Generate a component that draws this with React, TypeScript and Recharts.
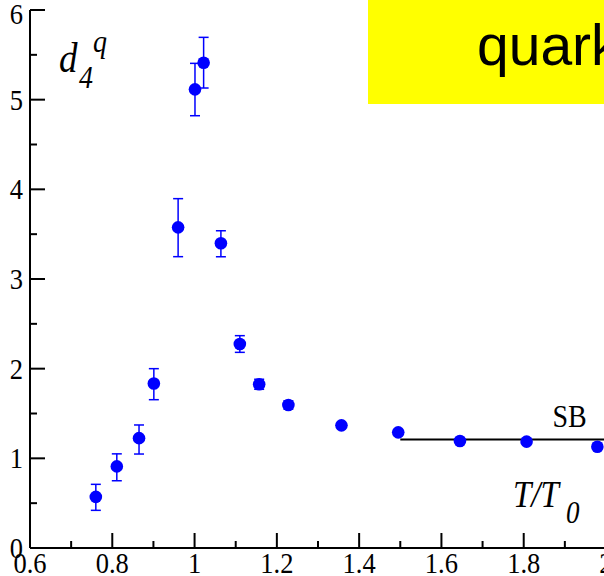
import React from 'react';
import { ScatterChart, Scatter, XAxis, YAxis, ErrorBar, ReferenceLine } from 'recharts';

const temperature = [0.760, 0.811, 0.865, 0.901, 0.960, 1.001, 1.022, 1.064, 1.110, 1.157, 1.228, 1.357, 1.495, 1.645, 1.807, 1.979];
const d4q = [0.57, 0.91, 1.225, 1.834, 3.576, 5.115, 5.412, 3.398, 2.275, 1.826, 1.595, 1.368, 1.29, 1.193, 1.186, 1.13];
const errLow = [0.15, 0.16, 0.177, 0.18, 0.327, 0.294, 0.282, 0.15, 0.093, 0.056, 0.045, 0.02, 0.015, 0.015, 0.015, 0.015];
const errHigh = [0.14, 0.14, 0.147, 0.166, 0.32, 0.29, 0.283, 0.14, 0.093, 0.056, 0.045, 0.02, 0.015, 0.015, 0.015, 0.015];
const sbLimit = 1.21;
const sbStart = 1.5;

const xTicks = [0.6, 0.7, 0.8, 0.9, 1.0, 1.1, 1.2, 1.3, 1.4, 1.5, 1.6, 1.7, 1.8, 1.9, 2.0];
const yTicks = [0, 0.5, 1, 1.5, 2, 2.5, 3, 3.5, 4, 4.5, 5, 5.5, 6];

const data = temperature.map((t, i) => ({ t, v: d4q[i], err: [errLow[i], errHigh[i]] }));

const SERIF = '"Liberation Serif", "Times New Roman", serif';
const SANS = '"Liberation Sans", Arial, sans-serif';
const STRETCH = 1.15;

const isMajorX = (v: number) => Math.round(v * 10) % 2 === 0;
const isMajorY = (v: number) => Math.abs(v - Math.round(v)) < 1e-6;
const fmt = (v: number) => String(Math.round(v * 10) / 10);

const BottomTick = (props: any) => {
  const { x, y, payload } = props;
  const v = payload.value;
  const major = isMajorX(v);
  return (
    <g>
      <line x1={x} y1={y} x2={x} y2={y - (major ? 15 : 7)} stroke="#000" strokeWidth={2} />
      {major && (
        <g transform={`translate(${x},${y}) scale(1,${STRETCH})`}>
          <text x={0} y={21.7} textAnchor="middle" fontFamily={SERIF} fontSize={26.5} fill="#000">{fmt(v)}</text>
        </g>
      )}
    </g>
  );
};

const TopTick = (props: any) => {
  const { x, y, payload } = props;
  const major = isMajorX(payload.value);
  return <line x1={x} y1={y} x2={x} y2={y + (major ? 15 : 7)} stroke="#000" strokeWidth={2} />;
};

const LeftTick = (props: any) => {
  const { x, y, payload } = props;
  const v = payload.value;
  const major = isMajorY(v);
  const extra = v === 6 ? 4 : 0;
  return (
    <g>
      <line x1={x} y1={y} x2={x + (major ? 15 : 7)} y2={y} stroke="#000" strokeWidth={2} />
      {major && (
        <g transform={`translate(${x - 7},${y + extra}) scale(1,${STRETCH})`}>
          <text x={0} y={8.7} textAnchor="end" fontFamily={SERIF} fontSize={26.5} fill="#000">{fmt(v)}</text>
        </g>
      )}
    </g>
  );
};

const RightTick = (props: any) => {
  const { x, y, payload } = props;
  const major = isMajorY(payload.value);
  return <line x1={x} y1={y} x2={x - (major ? 15 : 7)} y2={y} stroke="#000" strokeWidth={2} />;
};

const Dot = (props: any) => <circle cx={props.cx} cy={props.cy} r={6.3} fill="#0000ff" />;

export default function App() {
  return (
    <div style={{ position: 'fixed', left: 0, top: 0, width: 604, height: 576, overflow: 'hidden', background: '#fff' }}>
      <ScatterChart width={612} height={576} margin={{ top: 10, right: 6, bottom: 0, left: 0 }}>
        <XAxis
          type="number" dataKey="t" domain={[0.6, 2.0]} ticks={xTicks} interval={0}
          height={28} tickSize={0} tickMargin={0} tickLine={false}
          axisLine={{ stroke: '#000', strokeWidth: 2 }} tick={<BottomTick />} allowDataOverflow
        />
        <XAxis
          xAxisId="top" orientation="top" type="number" domain={[0.6, 2.0]} ticks={xTicks} interval={0}
          height={0} tickSize={0} tickMargin={0} tickLine={false}
          axisLine={{ stroke: '#000', strokeWidth: 2 }} tick={<TopTick />} allowDataOverflow
        />
        <YAxis
          type="number" dataKey="v" domain={[0, 6]} ticks={yTicks} interval={0}
          width={30} tickSize={0} tickMargin={0} tickLine={false}
          axisLine={{ stroke: '#000', strokeWidth: 2 }} tick={<LeftTick />} allowDataOverflow
        />
        <YAxis
          yAxisId="right" orientation="right" type="number" domain={[0, 6]} ticks={yTicks} interval={0}
          width={0} tickSize={0} tickMargin={0} tickLine={false}
          axisLine={{ stroke: '#000', strokeWidth: 2 }} tick={<RightTick />} allowDataOverflow
        />
        <ReferenceLine
          segment={[{ x: sbStart, y: sbLimit }, { x: 2.0, y: sbLimit }]}
          stroke="#000" strokeWidth={2}
        />
        <Scatter data={data} dataKey="v" shape={<Dot />} isAnimationActive={false}>
          <ErrorBar dataKey="err" direction="y" width={5} stroke="#0000ff" strokeWidth={1.5} isAnimationActive={false} />
        </Scatter>
      </ScatterChart>
      <svg width={604} height={576} style={{ position: 'absolute', left: 0, top: 0, pointerEvents: 'none' }}>
        <rect x={368} y={0} width={240} height={104} fill="#ffff00" />
        <text x={477} y={65} fontFamily={SANS} fontSize={57} fill="#000">quark</text>
        <g transform={`translate(0,72) scale(1,${STRETCH})`}>
          <text x={59} y={0} fontFamily={SERIF} fontStyle="italic" fontSize={37} fill="#000">d</text>
        </g>
        <g transform={`translate(0,88) scale(1,${STRETCH})`}>
          <text x={79} y={0} fontFamily={SERIF} fontStyle="italic" fontSize={28} fill="#000">4</text>
        </g>
        <g transform={`translate(0,52) scale(1,${STRETCH})`}>
          <text x={93} y={0} fontFamily={SERIF} fontStyle="italic" fontSize={28} fill="#000">q</text>
        </g>
        <g transform={`translate(0,507) scale(1,${STRETCH})`}>
          <text x={513} y={0} fontFamily={SERIF} fontStyle="italic" fontSize={33} fill="#000">T/T</text>
        </g>
        <g transform={`translate(0,523) scale(1,${STRETCH})`}>
          <text x={566} y={0} fontFamily={SERIF} fontStyle="italic" fontSize={27} fill="#000">0</text>
        </g>
        <g transform={`translate(0,426.7) scale(1,${STRETCH})`}>
          <text x={552.5} y={0} fontFamily={SERIF} fontSize={28} fill="#000">SB</text>
        </g>
      </svg>
    </div>
  );
}
